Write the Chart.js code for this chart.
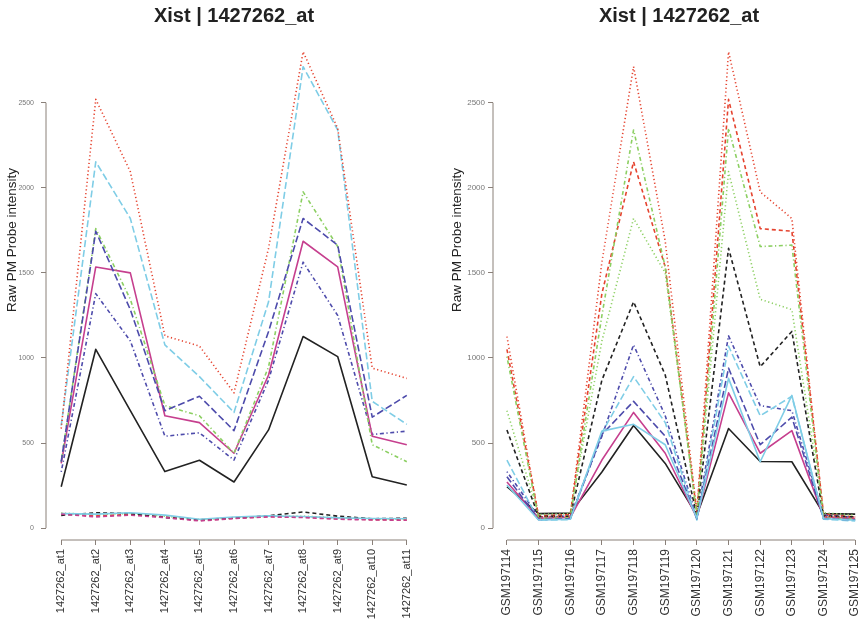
<!DOCTYPE html>
<html>
<head>
<meta charset="utf-8">
<script src="https://cdn.jsdelivr.net/npm/chart.js@4.4.1/dist/chart.umd.min.js"></script>
<style>
  body { margin: 0; background: #fff; }
  #wrap { position: relative; width: 865px; height: 631px; }
  #left { position: absolute; left: 0; top: 0; }
  #right { position: absolute; left: 432px; top: 0; }
</style>
</head>
<body>
<div id="wrap">
  <canvas id="left" width="432" height="631"></canvas>
  <canvas id="right" width="433" height="631"></canvas>
</div>
<script>
const probes = ['1427262_at1', '1427262_at2', '1427262_at3', '1427262_at4', '1427262_at5', '1427262_at6',
  '1427262_at7', '1427262_at8', '1427262_at9', '1427262_at10', '1427262_at11'];
const samples = ['GSM197114', 'GSM197115', 'GSM197116', 'GSM197117', 'GSM197118', 'GSM197119',
  'GSM197120', 'GSM197121', 'GSM197122', 'GSM197123', 'GSM197124', 'GSM197125'];
const yTicks = [0, 500, 1000, 1500, 2000, 2500];

// raw PM intensity, one row per sample, one value per probe
const gsm197114 = [243, 1051, 690, 332, 399, 271, 577, 1126, 1008, 302, 253];
const gsm197115 = [85, 72, 80, 66, 46, 58, 68, 66, 56, 50, 48];
const gsm197116 = [88, 80, 86, 70, 50, 62, 70, 70, 60, 55, 52];
const gsm197117 = [330, 1378, 1100, 540, 560, 400, 870, 1563, 1250, 550, 570];
const gsm197118 = [603, 2153, 1820, 1077, 890, 680, 1330, 2712, 2340, 745, 610];
const gsm197119 = [380, 1535, 1500, 660, 620, 440, 900, 1686, 1535, 540, 490];
const gsm197120 = [75, 90, 85, 62, 48, 60, 72, 95, 70, 55, 58];
const gsm197121 = [585, 2520, 2095, 1130, 1070, 795, 1645, 2800, 2350, 940, 880];
const gsm197122 = [391, 1760, 1345, 720, 660, 440, 948, 1976, 1655, 490, 390];
const gsm197123 = [390, 1745, 1284, 690, 775, 573, 1156, 1820, 1663, 652, 780];
const gsm197124 = [85, 82, 90, 76, 52, 65, 72, 68, 60, 56, 55];
const gsm197125 = [82, 66, 76, 62, 42, 56, 66, 62, 52, 48, 46];

const rows = [gsm197114, gsm197115, gsm197116, gsm197117, gsm197118, gsm197119,
  gsm197120, gsm197121, gsm197122, gsm197123, gsm197124, gsm197125];

// matplot style palette (col 1:6, lty 1:5)
const cols = ['#222222', '#e5432f', '#8ccf62', '#4d4bab', '#7fcde6', '#c63f8e'];
const ltys = [[], [4, 3], [1.2, 2.6], [1.2, 2.6, 4, 2.6], [7, 3]];
const axisCol = '#8a8079';
const font = "'Liberation Sans', Arial, sans-serif";

function makeDatasets(series) {
  return series.map((vals, i) => ({
    data: vals.map((v, j) => ({ x: j + 1, y: v })),
    borderColor: cols[i % 6],
    borderDash: ltys[i % 5],
    borderWidth: 1.6,
    pointRadius: 0,
    tension: 0,
    fill: false,
    borderJoinStyle: 'round',
    order: -i
  }));
}

// R-like axis lines (only between first and last tick) plus y label
const rAxes = {
  id: 'rAxes',
  afterDraw(chart, args, opts) {
    const ctx = chart.ctx, xs = chart.scales.x, ys = chart.scales.y, a = chart.chartArea;
    ctx.save();
    ctx.strokeStyle = axisCol;
    ctx.lineWidth = 1;
    ctx.beginPath();
    ctx.moveTo(a.left, ys.getPixelForValue(yTicks[0]));
    ctx.lineTo(a.left, ys.getPixelForValue(yTicks[yTicks.length - 1]));
    ctx.moveTo(xs.getPixelForValue(1), a.bottom);
    ctx.lineTo(xs.getPixelForValue(opts.n), a.bottom);
    ctx.stroke();
    ctx.translate(opts.labelX, 240);
    ctx.rotate(-Math.PI / 2);
    ctx.fillStyle = '#222';
    ctx.font = '13.5px ' + font;
    ctx.textAlign = 'center';
    ctx.textBaseline = 'middle';
    ctx.fillText('Raw PM Probe intensity', 0, 0);
    ctx.restore();
  }
};

function makeChart(id, labels, series, xMax, yLabelSize, xLabelSize, yPad, labelX, padRight) {
  return new Chart(document.getElementById(id), {
    type: 'line',
    data: { datasets: makeDatasets(series) },
    plugins: [rAxes],
    options: {
      responsive: false,
      animation: false,
      devicePixelRatio: 1,
      layout: { padding: { left: 0, right: padRight, top: 0, bottom: 0 } },
      plugins: {
        legend: { display: false },
        tooltip: { enabled: false },
        title: {
          display: true,
          fullSize: false,
          text: 'Xist | 1427262_at',
          color: '#222',
          font: { family: font, size: 20, weight: 'bold', lineHeight: 1.1 },
          padding: { top: 5, bottom: 6 }
        },
        rAxes: { n: labels.length, labelX: labelX }
      },
      scales: {
        x: {
          type: 'linear',
          min: 0.56,
          max: xMax,
          afterBuildTicks: s => { s.ticks = labels.map((l, i) => ({ value: i + 1 })); },
          afterFit: s => { s.height = 91; s.paddingLeft = 0; s.paddingRight = 0; },
          ticks: {
            autoSkip: false,
            minRotation: 90,
            maxRotation: 90,
            padding: 4,
            color: '#333',
            font: { family: font, size: xLabelSize },
            callback: (v, i) => labels[i]
          },
          grid: { drawOnChartArea: false, drawTicks: true, tickLength: 5, color: axisCol },
          border: { display: false }
        },
        y: {
          type: 'linear',
          min: -70,
          max: 2910,
          afterBuildTicks: s => { s.ticks = yTicks.map(v => ({ value: v })); },
          afterFit: s => { s.width = id === 'left' ? 46 : 61; s.paddingTop = 0; s.paddingBottom = 0; },
          ticks: {
            padding: yPad,
            color: '#777',
            font: { family: font, size: yLabelSize },
            callback: v => String(v)
          },
          grid: { drawOnChartArea: false, drawTicks: true, tickLength: 5, color: axisCol },
          border: { display: false }
        }
      }
    }
  });
}

// left: probes on x, one line per sample
makeChart('left', probes, rows, 11.44, 7, 11, 7, 12, 10);

// right: samples on x, one line per probe (same matrix transposed)
const byProbe = probes.map((p, j) => rows.map(r => r[j]));
makeChart('right', samples, byProbe, 12.31, 8, 12, 3, 25, 0);
</script>
</body>
</html>
